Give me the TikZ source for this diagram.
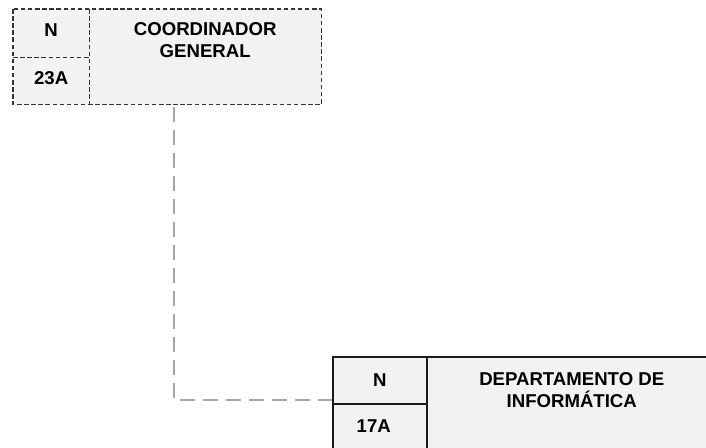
\documentclass[tikz,border=0pt]{standalone}
\usepackage{fontspec}
\setmainfont{Liberation Sans}
\definecolor{cellfill}{HTML}{F2F2F2}
\definecolor{dashedge}{HTML}{333333}
\definecolor{solidedge}{HTML}{1A1A1A}
\definecolor{linkgray}{HTML}{A6A6A6}
\tikzset{
  cell/.style={fill=cellfill, inner sep=0pt, anchor=north west},
  solidcell/.style={cell, draw=solidedge, line width=1.5pt},
  dashframe/.style={draw=dashedge, line width=1.4pt, dash pattern=on 4.5pt off 2.6pt},
  link/.style={draw=linkgray, line width=1.8pt, dash pattern=on 15pt off 8pt},
  lbl/.style={font=\bfseries\fontsize{18.6}{21.6}\selectfont, inner sep=0pt, align=center, anchor=north}
}
\begin{document}
\begin{tikzpicture}[x=1pt,y=-1pt]
\useasboundingbox (0,0) rectangle (706,447);
\clip (0,0) rectangle (706,447);

% general coordinator block (dashed frame)
\node[cell, minimum width=76pt, minimum height=48pt] (cgId) at (13,9) {};
\node[cell, minimum width=76pt, minimum height=47pt] (cgCode) at (13,57) {};
\node[cell, minimum width=232pt, minimum height=95pt] (cgName) at (89,9) {};
\draw[dashframe] (cgId.north west) rectangle (cgName.south east);
\draw[dashframe] (cgId.north east) -- (cgCode.south east);
\draw[dashframe] (cgId.south west) -- (cgId.south east);

\node[lbl] (cgIdText) at ([yshift=-14.3pt]cgId.north) {N};
\node[lbl] (cgCodeText) at ([yshift=-14.3pt]cgCode.north) {23A};
\node[lbl] (cgNameText) at ([yshift=-13.8pt]cgName.north) {COORDINADOR\\GENERAL};

% IT department block (solid frame)
\node[solidcell, minimum width=94pt, minimum height=47pt] (diId) at (332,356) {};
\node[solidcell, minimum width=94pt, minimum height=57pt] (diCode) at (332,403) {};
\node[solidcell, minimum width=290pt, minimum height=104pt] (diName) at (426,356) {};

\node[lbl] (diIdText) at ([yshift=-17pt]diId.north) {N};
\node[lbl, anchor=north west] (diCodeText) at ([xshift=24.5pt,yshift=-16.8pt]diCode.north west) {17A};
\node[lbl] (diNameText) at ([yshift=-16.5pt]diName.north) {DEPARTAMENTO DE\\INFORMÁTICA};

% reporting line
\coordinate (bend) at (174,400);
\draw[link, shorten <=3pt] (cgName.south -| bend) -- (bend) -- (bend -| diId.west);
\end{tikzpicture}
\end{document}
